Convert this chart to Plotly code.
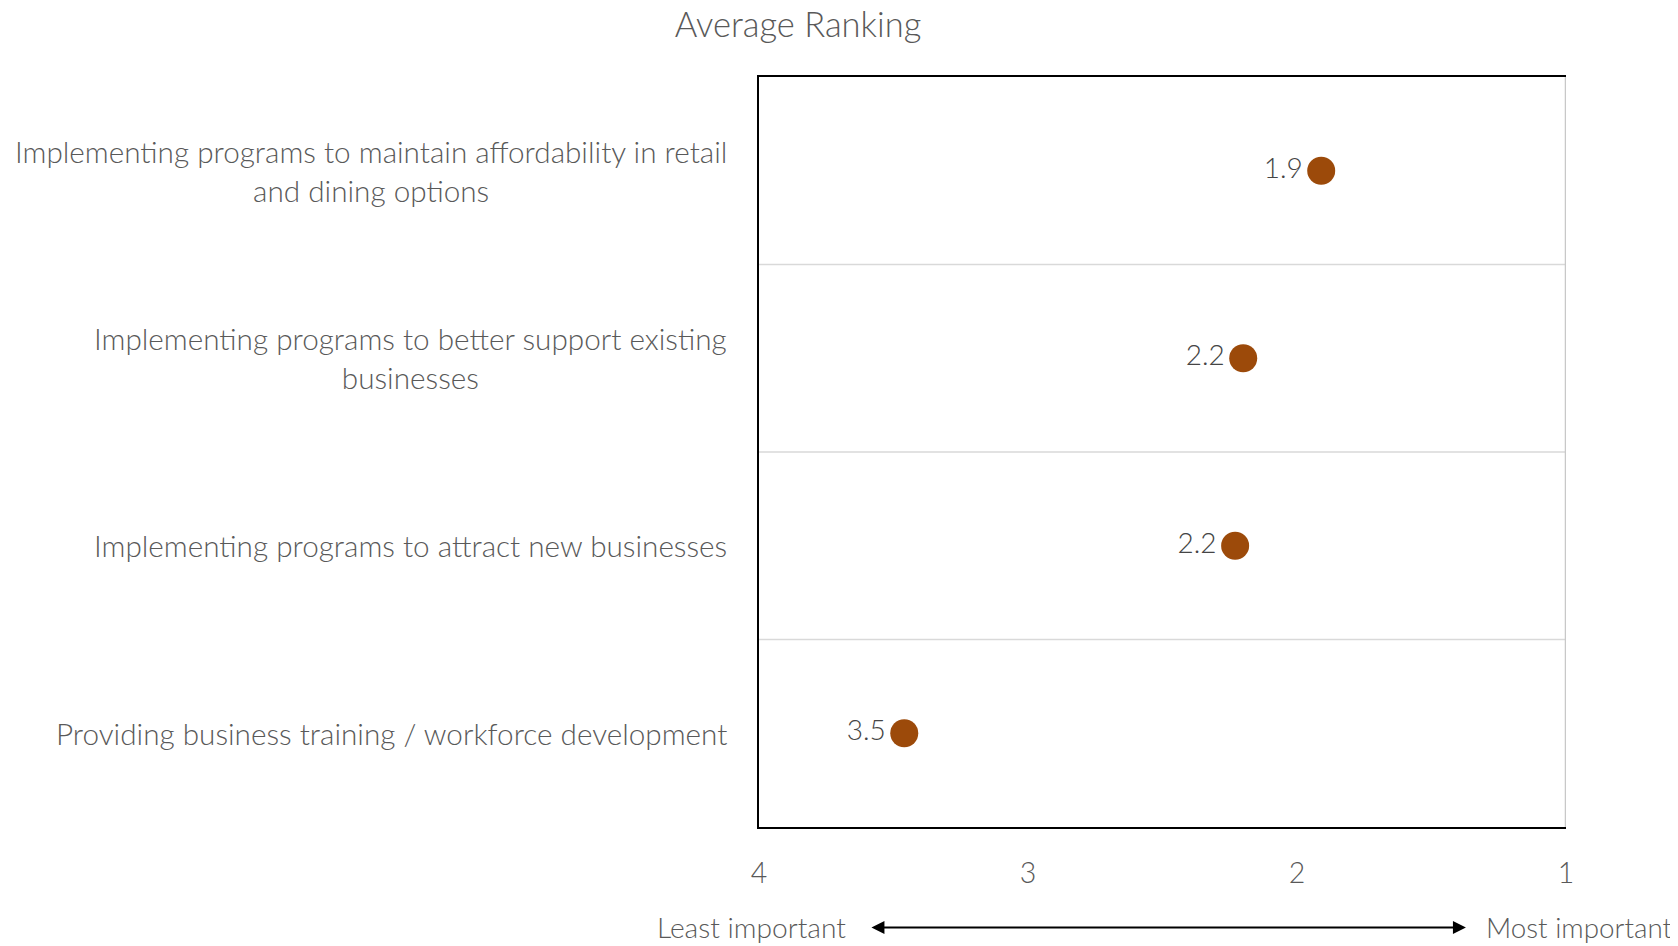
import plotly.graph_objects as go

categories = [
    "Implementing programs to maintain affordability in retail<br>and dining options",
    "Implementing programs to better support existing<br>businesses",
    "Implementing programs to attract new businesses",
    "Providing business training / workforce development",
]
avg_rank = [1.91, 2.20, 2.23, 3.46]
tick_vals = [4, 3, 2, 1]
tick_text = ["4", "3", "2", "1"]
title_text = "Average Ranking"
left_label = "Least important"
right_label = "Most important"

FONT = "Lato"
TXT = "#595959"
DOT = "#9C4A0A"
W, H = 1670, 938

fig = go.Figure()
fig.add_trace(go.Scatter(
    x=avg_rank, y=list(range(len(categories))), mode="markers+text",
    marker=dict(size=28, color=DOT),
    text=[f"{v:.1f}" for v in avg_rank], textposition="middle left",
    textfont=dict(family=FONT, size=28, color="#454545", weight=300),
    cliponaxis=False, showlegend=False, hoverinfo="skip",
))

shapes = []
for b in [0.5, 1.5, 2.5]:
    shapes.append(dict(type="line", xref="paper", yref="y", x0=0, x1=1, y0=b, y1=b,
                       line=dict(color="#d9d9d9", width=1.5), layer="below"))
shapes.append(dict(type="line", xref="x", yref="paper", x0=1, x1=1, y0=0, y1=1,
                   line=dict(color="#c8c8c8", width=2.5)))

annotations = []
for i, c in enumerate(categories):
    annotations.append(dict(text=c, xref="paper", yref="y", x=0, y=i, xanchor="right",
                            xshift=-30, align="center", showarrow=False,
                            font=dict(family=FONT, size=29.7, color=TXT, weight=300)))
annotations.append(dict(text=left_label, xref="paper", yref="paper", x=0.1105, y=-0.134,
                        xanchor="right", yanchor="middle", showarrow=False,
                        font=dict(family=FONT, size=28.2, color=TXT, weight=300)))
annotations.append(dict(text=right_label, xref="paper", yref="paper", x=0.898, y=-0.134,
                        xanchor="left", yanchor="middle", showarrow=False,
                        font=dict(family=FONT, size=27.8, color=TXT, weight=300)))
annotations.append(dict(text="", xref="paper", yref="paper", x=0.876, y=-0.134,
                        axref="pixel", ayref="pixel", ax=-596, ay=0, showarrow=True,
                        arrowhead=2, arrowside="end+start", arrowsize=1.3, arrowwidth=2,
                        arrowcolor="black", standoff=0, startstandoff=0))

fig.update_layout(
    width=W, height=H,
    margin=dict(l=751, r=112, t=69, b=119),
    paper_bgcolor="white", plot_bgcolor="white",
    font=dict(family=FONT, color=TXT, weight=300),
    title=dict(text=title_text, x=790 / W, xanchor="center", xref="container",
               y=1 - 16.5 / H, yanchor="middle", yref="container",
               font=dict(family=FONT, size=34.5, color=TXT, weight=300)),
    shapes=shapes, annotations=annotations,
    xaxis=dict(range=[4, 1], tickvals=tick_vals, ticktext=tick_text, showgrid=False,
               zeroline=False, showline=True, linecolor="black", linewidth=2, mirror=True,
               ticks="", ticklabelstandoff=20,
               tickfont=dict(family=FONT, size=28.5, color=TXT, weight=300)),
    yaxis=dict(range=[3.5, -0.5], showticklabels=False, showgrid=False, zeroline=False,
               showline=True, linecolor="black", linewidth=2, ticks=""),
)

fig.write_html("out.html")
